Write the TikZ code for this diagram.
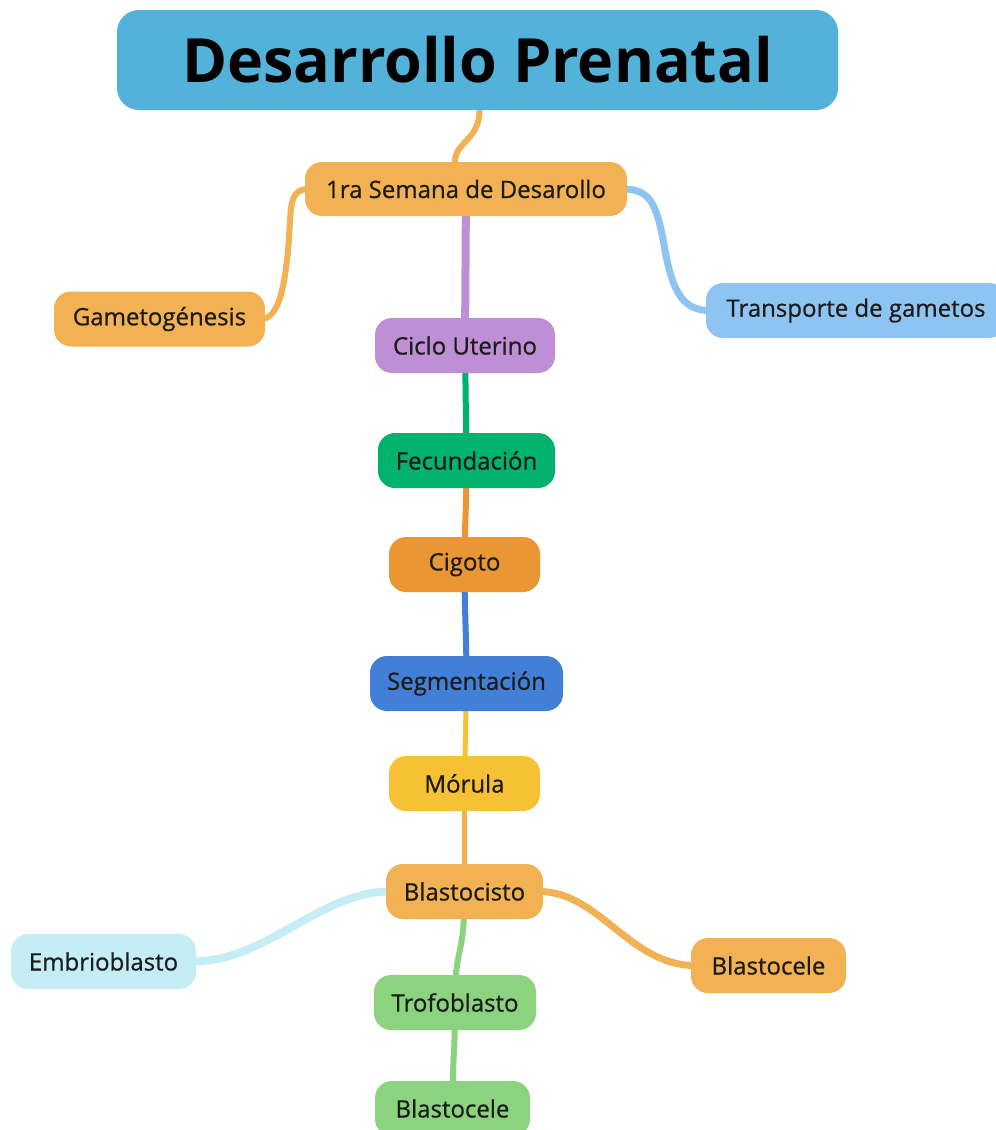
\documentclass[tikz,border=0pt]{standalone}
\usepackage{fontspec}
\setmainfont{Open Sans}
\newfontfamily\boxfont[FakeBold=0.7]{Open Sans}
\usetikzlibrary{backgrounds}
\definecolor{cTitle}{HTML}{52B2D9}
\definecolor{cOr}{HTML}{F2B152}
\definecolor{cLBlue}{HTML}{8EC4F2}
\definecolor{cPurple}{HTML}{BF8FD5}
\definecolor{cGreen}{HTML}{00B26B}
\definecolor{cCig}{HTML}{EA9632}
\definecolor{cBlue}{HTML}{4180D6}
\definecolor{cYel}{HTML}{F7C136}
\definecolor{cCyan}{HTML}{C5EDF6}
\definecolor{cLGreen}{HTML}{8BD37F}
\definecolor{cText}{HTML}{1C1C1C}
\begin{document}
\begin{tikzpicture}[x=1pt,y=-1pt,
  box/.style={rounded corners=17pt, inner sep=0pt, minimum height=55pt, text=cText,
    font=\boxfont\fontsize{24}{28}\selectfont},
  link/.style={line width=6pt, line cap=round}]
\useasboundingbox (0,0) rectangle (996,1130);
% nodes
\node[box, fill=cTitle, rounded corners=22pt, minimum width=721pt, minimum height=100pt,
  font=\rmfamily\fontsize{61}{70}\selectfont\bfseries, text=black] (title) at (477.5,60) {Desarrollo Prenatal};
\node[box, fill=cOr, minimum width=322pt, minimum height=54pt] (sem) at (466,189) {1ra Semana de Desarollo};
\node[box, fill=cOr, minimum width=211pt] (gam) at (159.5,319) {Gametogénesis};
\node[box, fill=cLBlue, minimum width=300pt] (tra) at (856,310.5) {Transporte de gametos};
\node[box, fill=cPurple, minimum width=180pt] (cic) at (465,345.5) {Ciclo Uterino};
\node[box, fill=cGreen, minimum width=177pt] (fec) at (466.5,460.5) {Fecundación};
\node[box, fill=cCig, minimum width=151pt] (cig) at (464.5,564.5) {Cigoto};
\node[box, fill=cBlue, minimum width=193pt] (seg) at (466.5,683.5) {Segmentación};
\node[box, fill=cYel, minimum width=151pt] (mor) at (464.5,783.5) {Mórula};
\node[box, fill=cOr, minimum width=157pt] (bla) at (464.5,891.5) {Blastocisto};
\node[box, fill=cCyan, minimum width=185pt] (emb) at (103.5,961.5) {Embrioblasto};
\node[box, fill=cOr, minimum width=155pt] (blr) at (768.5,965.5) {Blastocele};
\node[box, fill=cLGreen, minimum width=162pt] (tro) at (455,1002.5) {Trofoblasto};
\node[box, fill=cLGreen, minimum width=155pt] (blb) at (452.5,1108.5) {Blastocele};
% connectors (behind nodes)
\begin{scope}[on background layer]
\fill[white] (0,0) rectangle (996,1130);
\draw[link, cOr] ([xshift=2pt]title.south) .. controls +(0,30) and +(0,-20) .. ([xshift=-11pt]sem.north);
\draw[link, cOr] ([xshift=4pt]sem.west) .. controls +(-22,0) and +(4,-40) .. (288,250)
   .. controls +(-4,45) and +(15,0) .. ([xshift=-4pt]gam.east);
\draw[link, cLBlue, line width=7pt] ([xshift=-4pt]sem.east) .. controls +(28,0) and +(-8,-45) .. (665,250)
   .. controls +(8,45) and +(-25,0) .. ([xshift=4pt]tra.west);
\draw[line width=8pt, cPurple] (sem.center) -- (cic.center);
\draw[line width=6pt, cGreen] (cic.center) -- (fec.center);
\draw[line width=6pt, cCig] (fec.center) .. controls +(0,50) and +(0,-40) .. (cig.center);
\draw[line width=6pt, cBlue] (cig.center) .. controls +(0,50) and +(0,-50) .. (seg.center);
\draw[line width=5pt, cYel] (seg.center) -- (mor.center);
\draw[line width=5pt, cOr] (mor.center) -- (bla.center);
\draw[link, cCyan, line width=8pt] ([xshift=4pt]bla.west) .. controls +(-70,0) and +(75,0) .. ([xshift=-4pt]emb.east);
\draw[link, cOr, line width=7pt] ([xshift=-4pt]bla.east) .. controls +(60,0) and +(-65,0) .. ([xshift=4pt]blr.west);
\draw[line width=6pt, cLGreen] (bla.center) .. controls +(0,70) and +(0,-60) .. (tro.center);
\draw[line width=6pt, cLGreen] (tro.center) .. controls +(0,60) and +(0,-60) .. (blb.center);
\end{scope}
\end{tikzpicture}
\end{document}
